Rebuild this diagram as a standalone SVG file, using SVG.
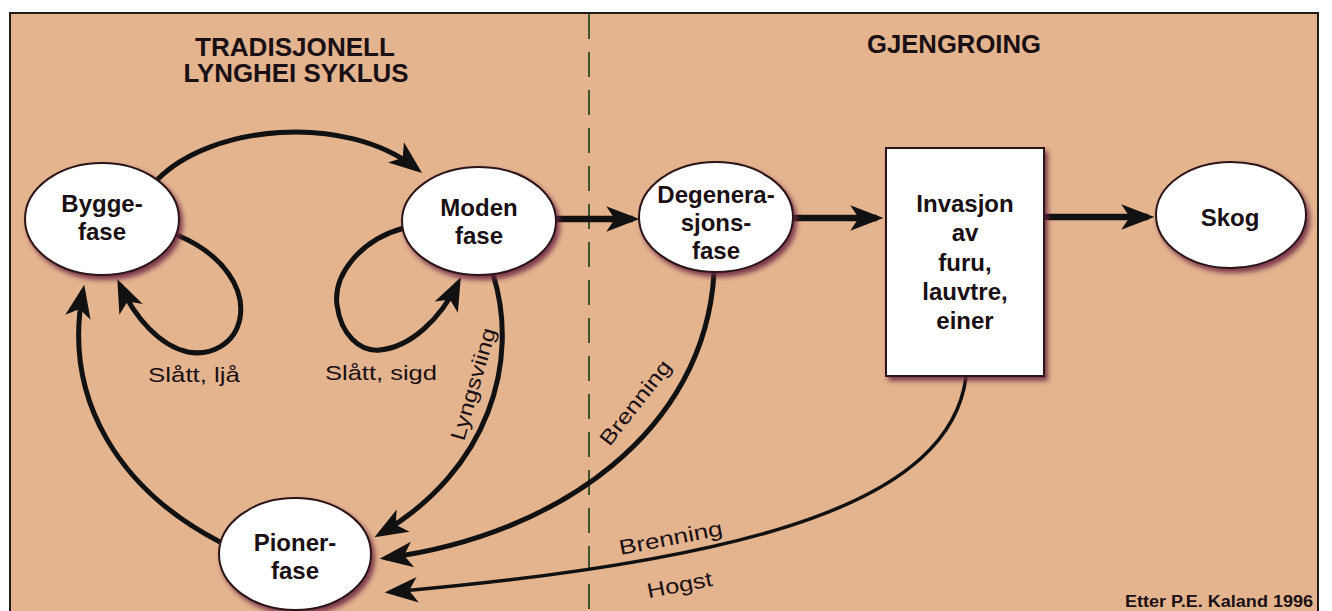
<svg xmlns="http://www.w3.org/2000/svg" width="1332" height="611" viewBox="0 0 1332 611">
<defs>
<style>
.bg{fill:#e4b48f;stroke:#231a1a;stroke-width:2}
.node{fill:#ffffff;stroke:#2a1418;stroke-width:2}
.nt{font-family:"Liberation Sans",Arial,sans-serif;font-weight:bold;font-size:24px;fill:#1a1014;text-anchor:middle}
.title{font-family:"Liberation Sans Narrow","Liberation Sans",Arial,sans-serif;font-weight:bold;font-size:25px;fill:#1a1014;text-anchor:middle}
.lbl{font-family:"Liberation Sans",Arial,sans-serif;font-size:21px;fill:#1a1014;text-anchor:middle}
.credit{font-family:"Liberation Sans Narrow","Liberation Sans",Arial,sans-serif;font-weight:bold;font-size:16px;fill:#1a1014;text-anchor:end}
.c{fill:none;stroke:#111;stroke-width:5;marker-end:url(#ah)}
.cs{fill:none;stroke:#111;stroke-width:6.5;marker-end:url(#ah)}
.ct{fill:none;stroke:#111;stroke-width:3.5;marker-end:url(#ah)}
.dash{stroke:#3f5230;stroke-width:2;stroke-dasharray:25 13;fill:none}
</style>
<marker id="ah" markerUnits="userSpaceOnUse" markerWidth="40" markerHeight="30" viewBox="-26 -14 36 28" refX="0" refY="0" orient="auto" overflow="visible">
<path d="M6,0 L-25,-12 L-17,0 L-25,12 Z" fill="#111"/>
</marker>
<filter id="sh" x="-20%" y="-20%" width="150%" height="150%">
<feGaussianBlur in="SourceAlpha" stdDeviation="2.5" result="b"/>
<feOffset in="b" dx="3" dy="4" result="o"/>
<feFlood flood-color="#6b2440" flood-opacity="0.85"/>
<feComposite in2="o" operator="in" result="s"/>
<feMerge><feMergeNode in="s"/><feMergeNode in="SourceGraphic"/></feMerge>
</filter>
</defs>
<rect x="0" y="0" width="1332" height="611" fill="#ffffff"/>
<rect class="bg" x="10" y="13" width="1308" height="610"/>
<line class="dash" x1="589" y1="14" x2="589" y2="611"/>

<g id="titles">
<text class="title" x="295" y="56" textLength="200" lengthAdjust="spacingAndGlyphs">TRADISJONELL</text>
<text class="title" x="296" y="82" textLength="225" lengthAdjust="spacingAndGlyphs">LYNGHEI SYKLUS</text>
<text class="title" x="954" y="53" textLength="174" lengthAdjust="spacingAndGlyphs">GJENGROING</text>
</g>

<g id="connectors">
<path class="c" d="M157 180 C210 125,345 112,417 169"/>
<path class="c" d="M177 235 C225 255,245 290,240 318 C235 345,210 356,188 352 C160 346,135 318,120 285"/>
<path class="c" d="M404 228 C360 240,333 275,337 305 C341 335,360 352,380 350 C410 347,440 320,458 283"/>
<path class="cs" d="M556 219 L633 219"/>
<path class="cs" d="M793 218 L877 218"/>
<path class="cs" d="M1044 217 L1148 217"/>
<path class="c" d="M493 274 C520 360,490 470,380 534"/>
<path class="c" d="M220 542 C120 490,62 400,83 291"/>
<path class="c" d="M714 273 C705 430,560 535,386 558"/>
<path class="ct" d="M966 377 C950 500,760 560,391 592"/>
<text class="lbl" x="194" y="382" textLength="92" lengthAdjust="spacingAndGlyphs">Slått, ljå</text>
<text class="lbl" x="381" y="380" textLength="112" lengthAdjust="spacingAndGlyphs">Slått, sigd</text>
<text class="lbl" transform="translate(480 386) rotate(-74)" x="0" y="0" textLength="116" lengthAdjust="spacingAndGlyphs">Lyngsviing</text>
<text class="lbl" transform="translate(641 407) rotate(-52)" x="0" y="0" textLength="102" lengthAdjust="spacingAndGlyphs">Brenning</text>
<text class="lbl" transform="translate(672 545) rotate(-11)" x="0" y="0" textLength="105" lengthAdjust="spacingAndGlyphs">Brenning</text>
<text class="lbl" transform="translate(681 592) rotate(-11)" x="0" y="0" textLength="66" lengthAdjust="spacingAndGlyphs">Hogst</text>
</g>

<g id="bygge">
<ellipse class="node" cx="102" cy="219" rx="77" ry="56" filter="url(#sh)"/>
<text class="nt" x="102" y="212">Bygge-</text>
<text class="nt" x="102" y="240">fase</text>
</g>
<g id="moden">
<ellipse class="node" cx="479" cy="221" rx="77" ry="54" filter="url(#sh)"/>
<text class="nt" x="479" y="216">Moden</text>
<text class="nt" x="479" y="244">fase</text>
</g>
<g id="degenerasjon">
<ellipse class="node" cx="716" cy="217" rx="77" ry="55" filter="url(#sh)"/>
<text class="nt" x="716" y="203">Degenera-</text>
<text class="nt" x="716" y="231">sjons-</text>
<text class="nt" x="716" y="259">fase</text>
</g>
<g id="invasjon">
<rect class="node" x="886" y="148" width="158" height="228" filter="url(#sh)"/>
<text class="nt" x="965" y="212">Invasjon</text>
<text class="nt" x="965" y="241">av</text>
<text class="nt" x="965" y="271">furu,</text>
<text class="nt" x="965" y="300">lauvtre,</text>
<text class="nt" x="965" y="329">einer</text>
</g>
<g id="skog">
<ellipse class="node" cx="1231" cy="215" rx="75" ry="53" filter="url(#sh)"/>
<text class="nt" x="1230" y="226">Skog</text>
</g>
<g id="pioner">
<ellipse class="node" cx="295" cy="554" rx="76" ry="56" filter="url(#sh)"/>
<text class="nt" x="295" y="551">Pioner-</text>
<text class="nt" x="295" y="579">fase</text>
</g>
<text class="credit" x="1313" y="607" textLength="188" lengthAdjust="spacingAndGlyphs">Etter P.E. Kaland 1996</text>
</svg>
